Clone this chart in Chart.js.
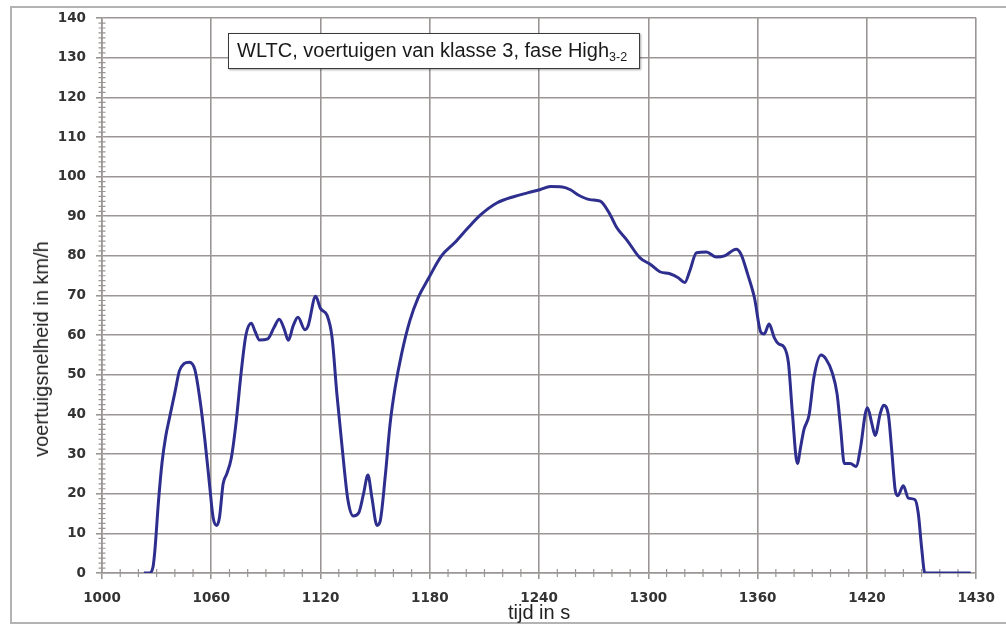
<!DOCTYPE html>
<html lang="nl">
<head>
<meta charset="utf-8">
<title>WLTC klasse 3 - fase High</title>
<script src="https://cdn.jsdelivr.net/npm/chart.js@4.4.1/dist/chart.umd.min.js"></script>
<style>
    html, body {
        margin: 0;
        padding: 0;
        background: #fff;
        overflow: hidden;
    }
    #wrap {
        position: relative;
        width: 1006px;
        height: 628px;
    }
    #frame {
        position: absolute;
        left: 10px;
        top: 6px;
        width: 1010px;
        height: 614px;
        border: 2px solid #b3b3b3;
    }
    #speedChart {
        position: absolute;
        left: 0;
        top: 0;
    }
    #yTitle {
        position: absolute;
        left: 41px;
        top: 349px;
        transform: translate(-50%, -50%) rotate(-90deg);
        font: 20px 'Liberation Sans', Arial, sans-serif;
        color: #222;
        white-space: nowrap;
        line-height: 1;
    }
    #legendBox {
        position: absolute;
        left: 228px;
        top: 33px;
        width: 412px;
        height: 36px;
        box-sizing: border-box;
        border: 1.5px solid #3a3a3a;
        background: #fff;
        box-shadow: 1px 1px 2px rgba(0, 0, 0, 0.35);
        font: 20px 'Liberation Sans', Arial, sans-serif;
        color: #1a1a1a;
        line-height: 33px;
        padding-left: 8px;
        white-space: nowrap;
    }
    #legendBox sub {
        font-size: 12.5px;
        vertical-align: -4px;
        line-height: 0;
    }
</style>
</head>
<body>
<div id="wrap">
    <div id="frame"></div>
    <canvas id="speedChart" width="1006" height="628"></canvas>
    <div id="yTitle">voertuigsnelheid in km/h</div>
    <div id="legendBox">WLTC, voertuigen van klasse 3, fase High<sub>3-2</sub></div>
</div>
<script>
// Speed trace, time in s
const timeSec = [
    1023, 1026, 1028, 1029, 1031, 1033, 1035, 1037, 1040, 1042.5,
    1045, 1048, 1051, 1054, 1056.5, 1059, 1061, 1063, 1064.5, 1066.5,
    1068.5, 1071, 1073.5, 1076.5, 1079, 1082, 1084, 1086.5, 1091, 1094.5,
    1097.3, 1100, 1102.3, 1105, 1107.6, 1111.4, 1113.2, 1117.3, 1120, 1123.6,
    1126.3, 1129, 1132, 1135, 1138, 1141, 1143.6, 1146, 1148.2, 1151,
    1152.7, 1155.5, 1158.2, 1161, 1164.5, 1169, 1173.6, 1179, 1186.4, 1193.6,
    1201, 1208, 1217, 1226.4, 1233.6, 1240.3, 1246.3, 1252.7, 1257.2, 1261,
    1268, 1273.6, 1279, 1282.7, 1288.2, 1295.4, 1301, 1306.3, 1311.8, 1316.4,
    1320, 1322.7, 1326.4, 1331.8, 1337.3, 1341.8, 1348.2, 1350.9, 1354.5, 1358.2,
    1361.8, 1363.6, 1366.3, 1369.1, 1371.5, 1374.5, 1376.9, 1379.1, 1381.8, 1383.6,
    1385.4, 1388.2, 1390.9, 1394.8, 1397.5, 1400.9, 1403.6, 1405.5, 1407.6, 1410.9,
    1414, 1416.6, 1419.1, 1420.3, 1422.7, 1424.5, 1427.3, 1429.1, 1431.8, 1433.6,
    1435.5, 1436.9, 1440, 1442.7, 1446.4, 1448.2, 1450, 1451.8, 1477
];

// Speed in km/h, one value per entry of timeSec
const speedKmh = [
    0, 0, 1.5, 5.5, 18, 28, 34.5, 39, 45.5, 51,
    52.8, 53.2, 51.3, 43, 33.5, 22.5, 14, 12, 14, 22.5,
    25, 29, 37.5, 51, 60, 63, 61, 58.8, 59.1, 62,
    64, 61.6, 58.7, 62.4, 64.5, 61.4, 62.4, 69.8, 66.7, 65,
    59.5, 45, 31, 18.5, 14.4, 15.2, 20, 24.7, 19, 12,
    13, 24.3, 37.7, 46.9, 55.3, 63.6, 69.5, 74.1, 80, 83.3,
    87.1, 90.4, 93.4, 95, 95.9, 96.7, 97.5, 97.4, 96.7, 95.5,
    94.2, 93.8, 90.4, 87.1, 84, 79.5, 77.9, 76, 75.5, 74.5,
    73.3, 76.2, 80.8, 81, 79.7, 80, 81.7, 80.4, 75.4, 69.5,
    60.7, 60.3, 62.8, 59.4, 57.8, 57, 53, 40.2, 27.6, 31.8,
    36.2, 39.8, 49.4, 55, 54, 50.6, 45.2, 36.8, 27.6, 27.6,
    26.9, 32, 40.2, 41.7, 37.7, 34.7, 40.2, 42.3, 39.8, 31,
    21, 19.5, 22, 18.9, 18.5, 15, 6.5, 0, 0
];

// Labels under the major x ticks (every 60 s from 1000)
const xTickLabels = ['1000', '1060', '1120', '1180', '1240', '1300', '1360', '1420', '1430'];

document.addEventListener('DOMContentLoaded', function() {
    const gridColor = '#9b9595';
    const tickFont = { family: "'DejaVu Sans', sans-serif", size: 13.5, weight: 'bold' };

    // Small tick marks between the labelled ticks, crossing both axes
    const minorTicks = {
        id: 'minorTicks',
        beforeDatasetsDraw(chart) {
            const { ctx, scales: { x, y } } = chart;
            const x0 = x.getPixelForValue(1000);
            const y0 = y.getPixelForValue(0);
            ctx.save();
            ctx.strokeStyle = gridColor;
            ctx.lineWidth = 1.2;
            ctx.beginPath();
            for (let t = 1000; t <= 1480; t += 10) {
                if ((t - 1000) % 60 === 0) continue;
                const px = x.getPixelForValue(t);
                ctx.moveTo(px, y0 - 4);
                ctx.lineTo(px, y0 + 4);
            }
            for (let v = 0; v <= 140; v += 1.25) {
                if (v % 10 === 0) continue;
                const py = y.getPixelForValue(v);
                ctx.moveTo(x0 - 3.5, py);
                ctx.lineTo(x0 + 3.5, py);
            }
            ctx.stroke();
            ctx.restore();
        }
    };

    const ctx = document.getElementById('speedChart').getContext('2d');
    new Chart(ctx, {
        type: 'line',
        data: {
            datasets: [{
                data: timeSec.map((t, i) => ({ x: t, y: speedKmh[i] })),
                borderColor: '#2e2e8e',
                borderWidth: 3,
                pointRadius: 0,
                cubicInterpolationMode: 'monotone',
                fill: false
            }]
        },
        options: {
            responsive: false,
            animation: false,
            events: [],
            layout: {
                padding: { left: 0, top: 17, right: 24, bottom: 0 }
            },
            plugins: {
                legend: { display: false },
                tooltip: { enabled: false }
            },
            scales: {
                x: {
                    type: 'linear',
                    min: 1000,
                    max: 1480,
                    afterFit(scale) { scale.height = 55; },
                    grid: { color: gridColor, lineWidth: 1.6, tickLength: 6 },
                    border: { color: gridColor, width: 1.6 },
                    ticks: {
                        stepSize: 60,
                        autoSkip: false,
                        maxRotation: 0,
                        padding: 11,
                        color: '#333',
                        font: tickFont,
                        callback: (value, index) => xTickLabels[index]
                    },
                    title: {
                        display: true,
                        text: 'tijd in s',
                        color: '#222',
                        font: { family: "'Liberation Sans', Arial, sans-serif", size: 20 },
                        padding: { top: 0, bottom: 3 }
                    }
                },
                y: {
                    min: 0,
                    max: 140,
                    afterFit(scale) { scale.width = 102; },
                    grid: { color: gridColor, lineWidth: 1.6, tickLength: 6 },
                    border: { color: gridColor, width: 1.6 },
                    ticks: {
                        stepSize: 10,
                        padding: 10,
                        color: '#333',
                        font: tickFont
                    }
                }
            }
        },
        plugins: [minorTicks]
    });
});
</script>
</body>
</html>
